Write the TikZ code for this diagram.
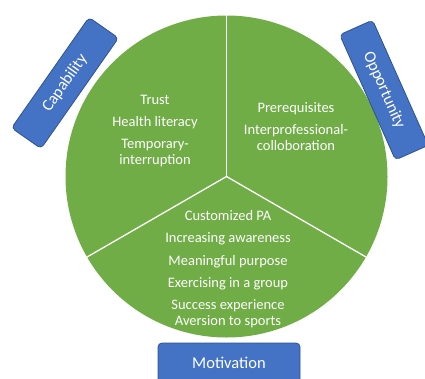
\documentclass[tikz,border=0pt]{standalone}
\usepackage{fontspec}
\setmainfont{Carlito}
\usepackage{tikz}
\definecolor{segreen}{HTML}{70AD47}
\definecolor{tagblue}{HTML}{4472C4}
\definecolor{tagedge}{HTML}{2F528F}

\begin{document}
\begin{tikzpicture}[x=1pt,y=-1pt,
  wheel/.style={circle,fill=segreen,minimum size=322pt,inner sep=0pt},
  part line/.style={draw=white,line width=1.3pt},
  items/.style={text=white,align=center,font=\fontsize{14.5}{16}\selectfont},
  tag/.style={rectangle,rounded corners=4pt,fill=tagblue,draw=tagedge,line width=0.8pt,
    text=white,font=\fontsize{16.5}{18}\selectfont,minimum height=36pt}]

  \useasboundingbox (0,0) rectangle (425,378);

  \node[wheel] (c) at (226.5,176.5) {};

  \draw[part line] (c.center) -- (c.90);
  \draw[part line] (c.center) -- (c.210);
  \draw[part line] (c.center) -- (c.330);

  \node[items] (cap) at (155,131) {Trust\\[6pt] Health literacy\\[6pt] Temporary-\\interruption};
  \node[items] (opp) at (296,127) {Prerequisites\\[6pt] Interprofessional-\\colloboration};
  \node[items] (mot) at (228,269) {Customized PA\\[6.5pt] Increasing awareness\\[6.5pt] Meaningful purpose\\[6pt]
    Exercising in a group\\[6pt] Success experience\\ Aversion to sports};

  \node[tag,minimum width=135pt,rotate=55] (captag) at (65,83) {Capability};
  \node[tag,minimum width=137pt,rotate=-66] (opptag) at (384,90) {Opportunity};
  \node[tag,minimum width=142pt,minimum height=40pt] (mottag) at (229,363) {Motivation};

\end{tikzpicture}
\end{document}
